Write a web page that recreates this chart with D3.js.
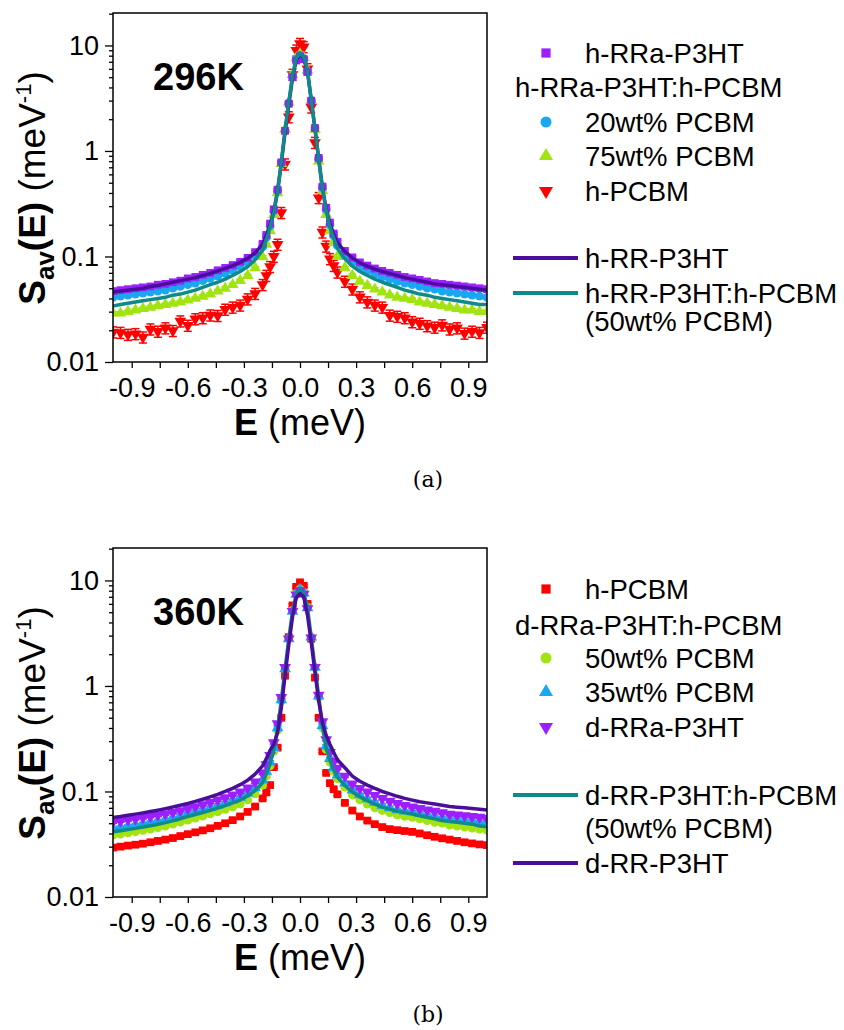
<!DOCTYPE html>
<html>
<head>
<meta charset="utf-8">
<script src="https://cdn.jsdelivr.net/npm/d3@7"></script>
<style>
body { margin: 0; background: #fff; }
text { font-family: "Liberation Sans", Arial, sans-serif; fill: #000; }
</style>
</head>
<body>
<svg id="chart" width="844" height="1030"></svg>
<script>
// energy transfer grid (meV)
var energy = [-1.00,-0.96,-0.92,-0.88,-0.84,-0.80,-0.76,-0.72,-0.68,-0.64,-0.60,-0.56,-0.52,-0.48,-0.44,-0.40,-0.36,-0.32,-0.28,-0.24,-0.20,
    -0.18,-0.16,-0.14,-0.12,-0.10,-0.08,-0.06,-0.04,-0.02,0.00,0.02,0.04,0.06,0.08,0.10,0.12,0.14,0.16,0.18,
    0.20,0.24,0.28,0.32,0.36,0.40,0.44,0.48,0.52,0.56,0.60,0.64,0.68,0.72,0.76,0.80,0.84,0.88,0.92,0.96,1.00];

// ---- 296K ----
var hRRaP3HT = [0.047,0.048,0.049,0.050,0.051,0.052,0.054,0.055,0.057,0.059,0.062,0.064,0.067,0.070,0.074,0.078,0.083,0.089,0.097,0.110,0.132,
    0.160,0.205,0.28,0.43,0.78,1.55,2.8,5.0,7.2,7.9,7.4,5.6,3.0,1.65,0.86,0.46,0.29,0.21,0.165,
    0.138,0.113,0.098,0.088,0.082,0.077,0.073,0.070,0.067,0.064,0.062,0.060,0.058,0.056,0.055,0.054,0.053,0.052,0.051,0.050,0.049];
var hRRa20 = [0.041,0.042,0.043,0.044,0.045,0.046,0.047,0.048,0.050,0.052,0.054,0.056,0.059,0.062,0.065,0.069,0.074,0.080,0.088,0.101,0.123,
    0.152,0.195,0.27,0.42,0.77,1.55,2.85,5.1,7.4,8.1,7.5,5.7,3.0,1.65,0.84,0.45,0.28,0.20,0.157,
    0.127,0.102,0.088,0.079,0.073,0.068,0.064,0.061,0.058,0.056,0.054,0.052,0.050,0.049,0.047,0.046,0.045,0.044,0.043,0.042,0.041];
var hRRa75 = [0.029,0.029,0.030,0.031,0.032,0.033,0.034,0.035,0.036,0.037,0.0385,0.040,0.042,0.044,0.047,0.050,0.054,0.059,0.066,0.078,0.099,
    0.130,0.175,0.25,0.40,0.76,1.6,2.9,5.3,7.6,8.3,7.7,5.8,3.0,1.6,0.80,0.42,0.25,0.175,0.135,
    0.100,0.078,0.066,0.058,0.053,0.049,0.046,0.043,0.041,0.040,0.039,0.037,0.036,0.035,0.034,0.033,0.032,0.031,0.031,0.030,0.030];
var hPCBM296 = [0.0192,0.0190,0.0182,0.0185,0.0172,0.0205,0.0195,0.0210,0.0198,0.0244,0.0222,0.0256,0.0262,0.0278,0.0275,0.0315,0.0330,0.0345,0.0395,0.0445,0.0540,
    0.066,0.080,0.100,0.130,0.26,0.75,2.1,5.3,9.0,10.4,9.7,6.0,2.6,1.2,0.36,0.17,0.125,0.095,0.082,
    0.071,0.058,0.049,0.0413,0.037,0.0345,0.033,0.0277,0.0270,0.0262,0.0240,0.0232,0.0220,0.0213,0.0224,0.0205,0.0210,0.0187,0.0195,0.0190,0.0213];
var hRRP3HT = [0.046,0.047,0.048,0.049,0.050,0.052,0.053,0.055,0.057,0.059,0.061,0.063,0.066,0.069,0.073,0.077,0.082,0.088,0.096,0.108,0.130,
    0.158,0.200,0.27,0.42,0.76,1.50,2.75,4.9,7.3,8.2,7.6,5.7,3.05,1.62,0.84,0.45,0.28,0.205,0.162,
    0.135,0.111,0.097,0.087,0.081,0.076,0.072,0.069,0.066,0.063,0.061,0.059,0.057,0.055,0.054,0.053,0.052,0.051,0.050,0.049,0.048];
var hRRblend = [0.034,0.035,0.036,0.037,0.038,0.039,0.040,0.041,0.043,0.044,0.046,0.048,0.051,0.054,0.057,0.061,0.066,0.072,0.080,0.093,0.115,
    0.145,0.190,0.26,0.41,0.78,1.6,2.9,5.2,7.6,8.4,7.8,5.8,3.05,1.65,0.83,0.44,0.27,0.19,0.150,
    0.119,0.095,0.081,0.072,0.066,0.061,0.057,0.054,0.051,0.048,0.046,0.044,0.043,0.041,0.040,0.039,0.038,0.037,0.036,0.035,0.035];

// ---- 360K ----
var hPCBM360 = [0.0294,0.0300,0.0307,0.0313,0.0320,0.0330,0.0340,0.0350,0.0362,0.0378,0.0394,0.0410,0.0428,0.0448,0.0472,0.0500,0.0535,0.0580,0.0640,0.0720,0.0860,
    0.098,0.115,0.17,0.26,0.50,1.25,2.9,5.8,8.7,9.6,8.9,6.0,2.8,1.2,0.50,0.24,0.15,0.120,0.105,
    0.094,0.078,0.066,0.058,0.053,0.049,0.046,0.044,0.0430,0.0422,0.0414,0.0400,0.0385,0.0372,0.0360,0.0350,0.0340,0.0330,0.0322,0.0315,0.0310];
var dRRa50 = [0.0385,0.0395,0.0405,0.0415,0.0428,0.0440,0.0455,0.0470,0.0490,0.0512,0.0535,0.0560,0.0585,0.0612,0.0642,0.0675,0.0715,0.0760,0.0830,0.0950,0.115,
    0.140,0.175,0.24,0.38,0.72,1.45,2.8,5.2,7.5,8.3,7.7,5.6,2.9,1.5,0.78,0.40,0.25,0.19,0.155,
    0.132,0.110,0.093,0.083,0.076,0.070,0.066,0.063,0.060,0.058,0.0568,0.055,0.053,0.051,0.050,0.048,0.047,0.046,0.045,0.044,0.043];
var dRRa35 = [0.0447,0.0458,0.0470,0.0482,0.0495,0.0510,0.0525,0.0542,0.0560,0.0590,0.0620,0.0645,0.0672,0.0705,0.0740,0.0780,0.0830,0.0880,0.0960,0.1080,0.128,
    0.155,0.190,0.26,0.40,0.74,1.45,2.8,5.1,7.4,8.2,7.6,5.5,2.9,1.5,0.80,0.42,0.27,0.205,0.168,
    0.143,0.120,0.103,0.093,0.085,0.079,0.074,0.070,0.067,0.065,0.0642,0.062,0.060,0.058,0.056,0.055,0.054,0.053,0.052,0.051,0.050];
var dRRaP3HT = [0.0515,0.0527,0.0540,0.0553,0.0567,0.0582,0.0598,0.0615,0.0635,0.0660,0.0690,0.0720,0.0752,0.0790,0.0830,0.0875,0.0930,0.0990,0.1080,0.1230,0.149,
    0.180,0.220,0.29,0.44,0.78,1.5,2.8,5.1,7.3,8.0,7.4,5.4,2.85,1.5,0.82,0.46,0.31,0.235,0.193,
    0.166,0.140,0.118,0.107,0.099,0.092,0.086,0.081,0.077,0.074,0.0716,0.069,0.067,0.065,0.063,0.061,0.060,0.059,0.058,0.057,0.0556];
var dRRblend = [0.0414,0.0425,0.0436,0.0447,0.0460,0.0474,0.0490,0.0507,0.0527,0.0552,0.0580,0.0605,0.0632,0.0662,0.0697,0.0735,0.0780,0.0830,0.0905,0.1020,0.121,
    0.148,0.183,0.25,0.39,0.73,1.45,2.8,5.1,7.5,8.2,7.6,5.5,2.9,1.5,0.79,0.41,0.26,0.197,0.160,
    0.137,0.114,0.099,0.089,0.082,0.076,0.071,0.068,0.065,0.063,0.061,0.059,0.057,0.055,0.053,0.052,0.051,0.050,0.049,0.047,0.0462];
var dRRP3HT = [0.0568,0.0580,0.0595,0.0610,0.0627,0.0645,0.0665,0.0688,0.0712,0.0740,0.0770,0.0805,0.0845,0.0890,0.0940,0.1000,0.1070,0.1160,0.1280,0.1460,0.175,
    0.205,0.245,0.28,0.36,0.62,1.25,2.45,4.5,6.9,7.5,7.0,4.7,2.6,1.35,0.72,0.45,0.34,0.28,0.235,
    0.200,0.168,0.140,0.125,0.115,0.107,0.100,0.095,0.090,0.086,0.0828,0.080,0.078,0.076,0.074,0.072,0.071,0.070,0.069,0.068,0.0666];

// relative error bar sizes
var relErr296 = [0.12, 0.03, 0.03, 0.03];
var relErr360 = [0.03, 0.03, 0.03, 0.03];

var xTicks = [-0.9, -0.6, -0.3, 0.0, 0.3, 0.6, 0.9];
var xMinorTicks = [-0.75, -0.45, -0.15, 0.15, 0.45, 0.75];
var yTicks = [0.01, 0.1, 1, 10];

var purple = "#9b1fff", blue = "#1aa7f2", green = "#a2e312", red = "#ff0000",
    indigo = "#4a0e9c", teal = "#0f8a8a";

var panels = [
  {
    temp: "296K", y0: 13, y1: 362, caption: "(a)",
    series: [
      { values: hPCBM296, kind: "down", color: red, err: relErr296[0] },
      { values: hRRa75, kind: "up", color: green, err: relErr296[1] },
      { values: hRRa20, kind: "circle", color: blue, err: relErr296[2] },
      { values: hRRaP3HT, kind: "square", color: purple, err: relErr296[3] },
      { values: hRRP3HT, kind: "line", color: indigo },
      { values: hRRblend, kind: "line", color: teal }
    ],
    legend: [
      { kind: "square", color: purple, label: "h-RRa-P3HT", y: 53 },
      { kind: "head", label: "h-RRa-P3HT:h-PCBM", y: 87 },
      { kind: "circle", color: blue, label: "20wt% PCBM", y: 122 },
      { kind: "up", color: green, label: "75wt% PCBM", y: 156 },
      { kind: "down", color: red, label: "h-PCBM", y: 191 },
      { kind: "line", color: indigo, label: "h-RR-P3HT", y: 258 },
      { kind: "line", color: teal, label: "h-RR-P3HT:h-PCBM", y: 293 },
      { kind: "text", label: "(50wt% PCBM)", y: 321 }
    ]
  },
  {
    temp: "360K", y0: 548, y1: 897, caption: "(b)",
    series: [
      { values: hPCBM360, kind: "square", color: red, err: relErr360[0] },
      { values: dRRa50, kind: "circle", color: green, err: relErr360[1] },
      { values: dRRa35, kind: "up", color: blue, err: relErr360[2] },
      { values: dRRaP3HT, kind: "down", color: purple, err: relErr360[3] },
      { values: dRRblend, kind: "line", color: teal },
      { values: dRRP3HT, kind: "line", color: indigo }
    ],
    legend: [
      { kind: "square", color: red, label: "h-PCBM", y: 589 },
      { kind: "head", label: "d-RRa-P3HT:h-PCBM", y: 625 },
      { kind: "circle", color: green, label: "50wt% PCBM", y: 658 },
      { kind: "up", color: blue, label: "35wt% PCBM", y: 692 },
      { kind: "down", color: purple, label: "d-RRa-P3HT", y: 727 },
      { kind: "line", color: teal, label: "d-RR-P3HT:h-PCBM", y: 795 },
      { kind: "text", label: "(50wt% PCBM)", y: 828 },
      { kind: "line", color: indigo, label: "d-RR-P3HT", y: 863 }
    ]
  }
];

var svg = d3.select("#chart");
var x = d3.scaleLinear().domain([-1, 1]).range([113, 487]);

function symbolPath(kind, size) {
    var type = kind === "square" ? d3.symbolSquare : kind === "circle" ? d3.symbolCircle : d3.symbolTriangle;
    return d3.symbol().type(type).size(size)();
}

panels.forEach(function(p, pi) {
    var y = d3.scaleLog().domain([0.01, 20.3]).range([p.y1, p.y0]);
    var g = svg.append("g");

    svg.append("clipPath").attr("id", "clip" + pi)
        .append("rect")
        .attr("x", x(-1)).attr("y", p.y0)
        .attr("width", x(1) - x(-1)).attr("height", p.y1 - p.y0);

    var plot = g.append("g").attr("clip-path", "url(#clip" + pi + ")");

    p.series.forEach(function(s) {
        if (s.kind === "line") {
            var line = d3.line()
                .x(function(d, i) { return x(energy[i]); })
                .y(function(d) { return y(d); });
            plot.append("path")
                .attr("d", line(s.values))
                .style("fill", "none")
                .style("stroke", s.color)
                .style("stroke-width", 3.5)
                .style("stroke-linejoin", "round");
            return;
        }
        var pts = plot.append("g");
        var eb = pts.selectAll(".err").data(s.values).enter().append("g");
        eb.append("line")
            .attr("x1", function(d, i) { return x(energy[i]); })
            .attr("x2", function(d, i) { return x(energy[i]); })
            .attr("y1", function(d) { return y(d * (1 + s.err)); })
            .attr("y2", function(d) { return y(d * (1 - s.err)); })
            .style("stroke", s.color).style("stroke-width", 1.5);
        eb.append("line")
            .attr("x1", function(d, i) { return x(energy[i]) - 4; })
            .attr("x2", function(d, i) { return x(energy[i]) + 4; })
            .attr("y1", function(d) { return y(d * (1 + s.err)); })
            .attr("y2", function(d) { return y(d * (1 + s.err)); })
            .style("stroke", s.color).style("stroke-width", 1.5);
        eb.append("line")
            .attr("x1", function(d, i) { return x(energy[i]) - 4; })
            .attr("x2", function(d, i) { return x(energy[i]) + 4; })
            .attr("y1", function(d) { return y(d * (1 - s.err)); })
            .attr("y2", function(d) { return y(d * (1 - s.err)); })
            .style("stroke", s.color).style("stroke-width", 1.5);
        pts.selectAll(".pt").data(s.values).enter().append("path")
            .attr("d", symbolPath(s.kind, 60))
            .attr("transform", function(d, i) {
                return "translate(" + x(energy[i]) + "," + y(d) + ")" + (s.kind === "down" ? " rotate(180)" : "");
            })
            .style("fill", s.color);
    });

    // frame
    g.append("rect")
        .attr("x", x(-1)).attr("y", p.y0)
        .attr("width", x(1) - x(-1)).attr("height", p.y1 - p.y0)
        .style("fill", "none").style("stroke", "#000").style("stroke-width", 1.5);

    // x axis
    var xa = g.append("g").attr("transform", "translate(0," + p.y1 + ")")
        .call(d3.axisBottom(x).tickValues(xTicks).tickFormat(function(d) { return d.toFixed(1); })
            .tickSize(6).tickPadding(10));
    g.append("g").attr("transform", "translate(0," + p.y1 + ")")
        .call(d3.axisBottom(x).tickValues(xMinorTicks).tickFormat("").tickSize(6))
        .select(".domain").remove();

    // y axis
    var ya = g.append("g").attr("transform", "translate(" + x(-1) + ",0)")
        .call(d3.axisLeft(y).tickValues(yTicks).tickFormat(function(d) { return String(d); })
            .tickSize(8).tickPadding(6));
    var minor = [];
    [0.01, 0.1, 1, 10].forEach(function(dec) {
        for (var k = 2; k <= 9; k++) if (dec * k <= 20.3) minor.push(dec * k);
    });
    g.append("g").attr("transform", "translate(" + x(-1) + ",0)")
        .call(d3.axisLeft(y).tickValues(minor).tickFormat("").tickSize(4))
        .select(".domain").remove();

    g.selectAll(".tick line").style("stroke", "#000").style("stroke-width", 1.3);
    [xa, ya].forEach(function(a) {
        a.select(".domain").remove();
        a.selectAll("text")
            .style("font-family", "'Liberation Sans', Arial, sans-serif")
            .style("font-size", "27px").style("fill", "#000");
    });

    // axis titles
    var xt = g.append("text").attr("x", 300).attr("y", p.y1 + 73)
        .attr("text-anchor", "middle").style("font-size", "36px");
    xt.append("tspan").style("font-weight", "bold").text("E");
    xt.append("tspan").text(" (meV)");

    var yt = g.append("text")
        .attr("transform", "translate(45," + (p.y0 + 175) + ") rotate(-90)")
        .attr("text-anchor", "middle").style("font-size", "37px");
    yt.append("tspan").style("font-weight", "bold").text("S");
    yt.append("tspan").style("font-weight", "bold").style("font-size", "26px").attr("dy", 9).text("av");
    yt.append("tspan").style("font-weight", "bold").attr("dy", -9).text("(E)");
    yt.append("tspan").text(" (meV");
    yt.append("tspan").style("font-size", "22px").attr("dy", -14).text("-1");
    yt.append("tspan").attr("dy", 14).text(")");

    // temperature label
    g.append("text").attr("x", 153).attr("y", p.y0 + 77)
        .style("font-size", "38px").style("font-weight", "bold").text(p.temp);

    // caption
    g.append("text").attr("x", 428).attr("y", p.y1 + 125)
        .attr("text-anchor", "middle")
        .style("font-family", "'DejaVu Serif', 'Liberation Serif', serif")
        .style("font-size", "22px").text(p.caption);

    // legend
    var lg = g.append("g");
    p.legend.forEach(function(item) {
        if (item.kind === "line") {
            lg.append("line").attr("x1", 513).attr("x2", 578)
                .attr("y1", item.y).attr("y2", item.y)
                .style("stroke", item.color).style("stroke-width", 4);
        } else if (item.kind !== "head" && item.kind !== "text") {
            lg.append("path")
                .attr("d", symbolPath(item.kind, item.kind === "circle" ? 95 : 85))
                .attr("transform", "translate(546," + item.y + ")" + (item.kind === "down" ? " rotate(180)" : ""))
                .style("fill", item.color);
        }
        lg.append("text")
            .attr("x", item.kind === "head" ? 515 : 585)
            .attr("y", item.y + 9.5)
            .style("font-size", "27.5px")
            .text(item.label);
    });
});
</script>
</body>
</html>
